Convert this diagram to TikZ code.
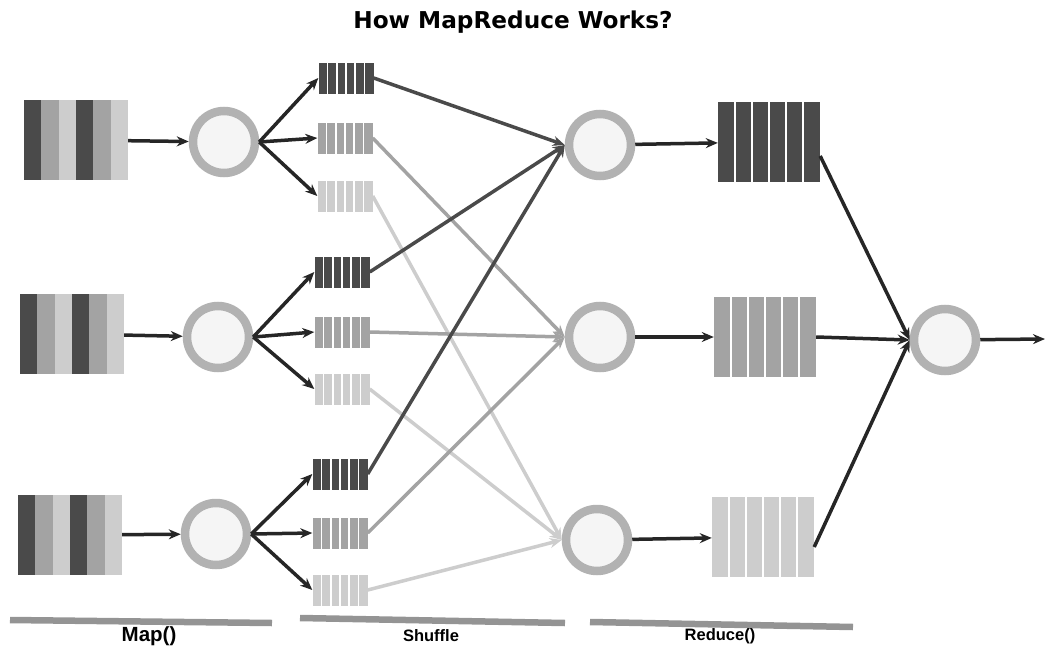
\documentclass[tikz,border=0pt]{standalone}
\usepackage{fontspec}
\newfontfamily\titlefont{DejaVu Sans}
\newfontfamily\labelfont{Liberation Sans}
\usetikzlibrary{calc,positioning,arrows.meta}
\tikzset{>={Stealth[length=12pt,width=10pt]}}
\definecolor{dkgray}{HTML}{4A4A4A}
\definecolor{mdgray}{HTML}{A3A3A3}
\definecolor{ltgray}{HTML}{CDCDCD}
\colorlet{ringgray}{black!30}
\colorlet{circfill}{black!4}
\colorlet{penColor}{black!85}
\tikzset{
  proc/.style={circle,draw=ringgray,line width=8.5pt,fill=circfill,minimum size=62pt,inner sep=0pt},
  stripes/.style={path picture={
    \foreach \i in {1,...,5}
      \draw[white,line width=1.5pt] ($(path picture bounding box.south west)!{\i/6}!(path picture bounding box.south east)$)
        -- ($(path picture bounding box.north west)!{\i/6}!(path picture bounding box.north east)$);}},
  chunk/.style={fill=#1,inner sep=0pt,minimum width=55pt,minimum height=31pt,stripes},
  result/.style={fill=#1,inner sep=0pt,minimum width=102pt,minimum height=80pt,stripes},
  input/.style={inner sep=0pt,minimum width=104pt,minimum height=80pt,path picture={
    \foreach \c [count=\i from 0] in {dkgray,mdgray,ltgray,dkgray,mdgray,ltgray}
      \fill[\c] ($(path picture bounding box.south west)!{\i/6}!(path picture bounding box.south east)$)
        rectangle ($(path picture bounding box.north west)!{(\i+1)/6}!(path picture bounding box.north east)$);}},
  flow/.style={->,penColor,line width=3.5pt},
  mix/.style={->,#1,line width=3.5pt},
  bar/.style={black!42,line width=6.5pt},
  phase/.style={font=\labelfont\bfseries\fontsize{16.5}{19}\selectfont}
}
\begin{document}
\begin{tikzpicture}[x=1pt,y=-1pt]
  \useasboundingbox (0,0) rectangle (1045,648);
  \node[font=\titlefont\bfseries\fontsize{23.2}{26}\selectfont] (title) at (513,22) {How MapReduce Works?};

  \node[input] (in1) at (76,140) {};
  \node[input] (in2) at (72,334) {};
  \node[input] (in3) at (70,535) {};

  \node[proc] (m1) at (224,142) {};
  \node[proc] (m2) at (218,337) {};
  \node[proc] (m3) at (216,534) {};

  \node[chunk=dkgray] (s1a) at (346,78) {};
  \node[chunk=mdgray] (s1b) at (345,138) {};
  \node[chunk=ltgray] (s1c) at (345,196) {};
  \node[chunk=dkgray] (s2a) at (342,272) {};
  \node[chunk=mdgray] (s2b) at (342,332) {};
  \node[chunk=ltgray] (s2c) at (342,389) {};
  \node[chunk=dkgray] (s3a) at (340,474) {};
  \node[chunk=mdgray] (s3b) at (340,533) {};
  \node[chunk=ltgray] (s3c) at (340,590) {};

  \node[proc] (r1) at (600,145) {};
  \node[proc] (r2) at (600,337) {};
  \node[proc] (r3) at (597,540) {};

  \node[result=dkgray] (o1) at (769,142) {};
  \node[result=mdgray] (o2) at (765,337) {};
  \node[result=ltgray] (o3) at (763,537) {};

  \node[proc] (fin) at (945,340) {};
  \coordinate (out) at (1045,339);

  \foreach \k in {1,2,3} {
    \draw[flow] (in\k) -- (m\k);
    \draw[flow] (m\k.east) -- (s\k a.west);
    \draw[flow] (m\k.east) -- (s\k b.west);
    \draw[flow] (m\k.east) -- (s\k c.west);
  }

  \foreach \k in {1,2,3} \draw[mix=ltgray] (s\k c.east) -- (r3.west);
  \foreach \k in {1,2,3} \draw[mix=mdgray] (s\k b.east) -- (r2.west);
  \foreach \k in {1,2,3} \draw[mix=dkgray] (s\k a.east) -- (r1.west);

  \draw[flow] (r1) -- (o1);
  \draw[flow] (r2) -- (o2);
  \draw[flow] (r3) -- (o3);

  \draw[flow] ([yshift=-14pt]o1.east) -- (fin.west);
  \draw[flow] (o2.east) -- (fin.west);
  \draw[flow] ([yshift=-10pt]o3.east) -- (fin.west);
  \draw[flow] (fin) -- (out);

  \draw[bar] (10,620) -- (272,623);
  \draw[bar] (300,618) -- (565,623);
  \draw[bar] (590,622) -- (853,627);
  \node[phase,font=\labelfont\bfseries\fontsize{20.5}{23}\selectfont] (lmap) at (149,636) {Map()};
  \node[phase] (lshuffle) at (431,636) {Shuffle};
  \node[phase] (lreduce) at (720,636) {Reduce()};
\end{tikzpicture}
\end{document}
